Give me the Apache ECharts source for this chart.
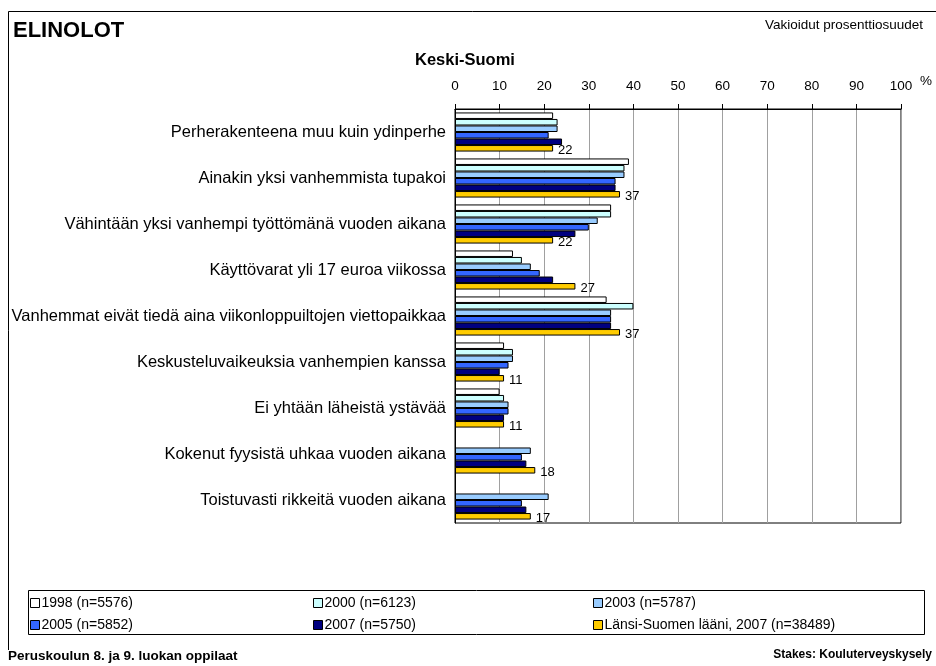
<!DOCTYPE html>
<html>
<head>
<meta charset="utf-8">
<script src="https://cdn.jsdelivr.net/npm/echarts@6/dist/echarts.min.js"></script>
<style>html,body{margin:0;padding:0;background:#fff;}#c{width:936px;height:666px;}</style>
</head>
<body>
<div id="c"></div>
<script>
const categories = [
  'Perherakenteena muu kuin ydinperhe',
  'Ainakin yksi vanhemmista tupakoi',
  'Vähintään yksi vanhempi työttömänä vuoden aikana',
  'Käyttövarat yli 17 euroa viikossa',
  'Vanhemmat eivät tiedä aina viikonloppuiltojen viettopaikkaa',
  'Keskusteluvaikeuksia vanhempien kanssa',
  'Ei yhtään läheistä ystävää',
  'Kokenut fyysistä uhkaa vuoden aikana',
  'Toistuvasti rikkeitä vuoden aikana'
];
const seriesNames = ['1998 (n=5576)', '2000 (n=6123)', '2003 (n=5787)', '2005 (n=5852)', '2007 (n=5750)', 'Länsi-Suomen lääni, 2007 (n=38489)'];
const v1998 = [22, 39, 35, 13, 34, 11, 10, null, null];
const v2000 = [23, 38, 35, 15, 40, 13, 11, null, null];
const v2003 = [23, 38, 32, 17, 35, 13, 12, 17, 21];
const v2005 = [21, 36, 30, 19, 35, 12, 12, 15, 15];
const v2007 = [24, 36, 27, 22, 35, 10, 11, 16, 16];
const vLansi = [22, 37, 22, 27, 37, 11, 11, 18, 17];
const xTicks = [0, 10, 20, 30, 40, 50, 60, 70, 80, 90, 100];

const colors = ['#FFFFFF', '#CCFFFF', '#99CCFF', '#3366FF', '#000080', '#FFCC00'];
const allValues = [v1998, v2000, v2003, v2005, v2007, vLansi];
const FONT = '"Liberation Sans", Arial, sans-serif';

const chart = echarts.init(document.getElementById('c'), null, {renderer: 'canvas'});

const series = seriesNames.map((name, i) => ({
  name: name,
  type: 'bar',
  data: allValues[i],
  barGap: '0%',
  barCategoryGap: '15%',
  itemStyle: {color: colors[i], borderColor: '#000', borderWidth: 1},
  label: i === 5 ? {show: true, position: 'right', distance: 5, offset: [0, 2], formatter: '{c}', fontSize: 13, color: '#000', fontFamily: FONT} : {show: false},
  emphasis: {disabled: true},
  animation: false
}));

const legendPos = [[30, 596], [313, 596], [593, 596], [30, 618], [313, 618], [593, 618]];
const legends = seriesNames.map((name, i) => ({
  data: [name],
  left: legendPos[i][0],
  top: legendPos[i][1],
  padding: 0,
  itemWidth: 9,
  itemHeight: 9,
  itemGap: 4,
  icon: 'rect',
  selectedMode: false,
  textStyle: {fontSize: 14, color: '#000', fontFamily: FONT, padding: [0, 0, 0, -3]},
  itemStyle: {borderColor: '#000', borderWidth: 1}
}));

chart.setOption({
  animation: false,
  textStyle: {fontFamily: FONT},
  title: [
    {text: 'ELINOLOT', left: 8, top: 15, textStyle: {fontSize: 22, fontWeight: 'bold', color: '#000', fontFamily: FONT}},
    {text: 'Vakioidut prosenttiosuudet', right: 8, top: 13, textStyle: {fontSize: 13.5, fontWeight: 'normal', color: '#000', fontFamily: FONT}},
    {text: 'Keski-Suomi', left: 410, top: 47, textStyle: {fontSize: 16.5, fontWeight: 'bold', color: '#000', fontFamily: FONT}},
    {text: 'Peruskoulun 8. ja 9. luokan oppilaat', left: 3, top: 644, textStyle: {fontSize: 13.5, fontWeight: 'bold', color: '#000', fontFamily: FONT}},
    {text: 'Stakes: Kouluterveyskysely', right: -1, top: 644, textStyle: {fontSize: 12, fontWeight: 'bold', color: '#000', fontFamily: FONT}}
  ],
  legend: legends,
  grid: {left: 455, right: 35, top: 109, bottom: 143, show: true, borderColor: '#000', borderWidth: 1, backgroundColor: 'transparent'},
  xAxis: {
    type: 'value', position: 'top', min: xTicks[0], max: xTicks[xTicks.length - 1], interval: 10,
    axisLine: {show: true, lineStyle: {color: '#000'}},
    axisTick: {show: true, length: 5, lineStyle: {color: '#000'}},
    axisLabel: {fontSize: 13.5, color: '#000', margin: 16, fontFamily: FONT},
    splitLine: {show: true, lineStyle: {color: '#A0A0A0', width: 1}}
  },
  yAxis: {
    type: 'category', data: categories, inverse: true,
    axisLine: {show: true, lineStyle: {color: '#000'}},
    axisTick: {show: false},
    axisLabel: {fontSize: 16.5, color: '#000', margin: 9, fontFamily: FONT},
    splitLine: {show: false}
  },
  series: series,
  graphic: [
    {type: 'polyline', shape: {points: [[8.5, 650], [8.5, 11.5], [936, 11.5]]}, style: {stroke: '#000', lineWidth: 1, fill: null}, silent: true},
    {type: 'rect', shape: {x: 28.5, y: 590.5, width: 896, height: 44}, style: {stroke: '#000', lineWidth: 1, fill: null}, silent: true, z: -1},
    {type: 'text', left: 920, top: 74, style: {text: '%', fontSize: 13.5, fill: '#000', fontFamily: FONT}, silent: true}
  ]
});
</script>
</body>
</html>
